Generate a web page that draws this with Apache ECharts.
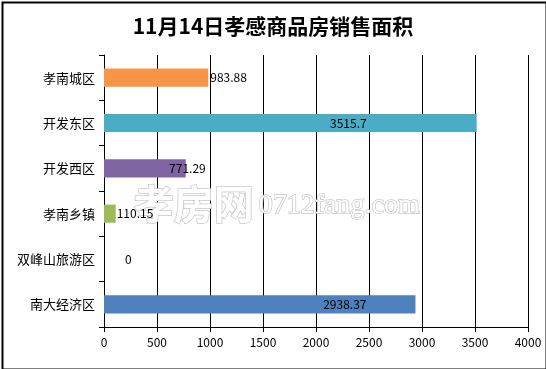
<!DOCTYPE html>
<html><head><meta charset="utf-8">
<script src="https://cdn.jsdelivr.net/npm/echarts@6/dist/echarts.min.js"></script>
<style>html,body{margin:0;padding:0;background:#fff}#c{width:546px;height:369px}</style>
</head><body><div id="c"></div>
<script>
const titleText = '11月14日孝感商品房销售面积';
const categories = ['孝南城区', '开发东区', '开发西区', '孝南乡镇', '双峰山旅游区', '南大经济区'];
const values = [983.88, 3515.7, 771.29, 110.15, 0, 2938.37];
const xTicks = [0, 500, 1000, 1500, 2000, 2500, 3000, 3500, 4000];
const barColors = ['#F79646', '#4BACC6', '#8064A2', '#9BBB59', '#C0504D', '#4F81BD'];
// label placement styles (per bar, matching the reference)
const labelStyles = [
  {position: 'right', distance: 2},
  {position: 'insideRight', offset: [-105, 0]},
  {position: 'insideRight', offset: [25, 0]},
  {position: 'right', distance: 1},
  {position: 'right', distance: 21},
  {position: 'insideRight', offset: [-44, 0]}
];
const font = '"Noto Sans CJK SC", "Noto Sans", sans-serif';
const chart = echarts.init(document.getElementById('c'));
chart.setOption({
  animation: false,
  backgroundColor: '#fff',
  title: {
    text: titleText, left: 'center', top: 11,
    textStyle: {fontFamily: font, fontSize: 21, fontWeight: 'bold', color: '#000'}
  },
  grid: {left: 104, right: 18, top: 55, bottom: 42, containLabel: false},
  xAxis: {
    type: 'value', min: xTicks[0], max: xTicks[xTicks.length - 1], interval: 500,
    axisLine: {show: true, lineStyle: {color: '#000', width: 1}},
    axisTick: {show: true, length: 5, lineStyle: {color: '#000'}},
    axisLabel: {color: '#000', fontFamily: font, fontSize: 12, margin: 9, formatter: v => String(v)},
    splitLine: {show: true, lineStyle: {color: '#000', width: 1}}
  },
  yAxis: {
    type: 'category', data: categories, inverse: true,
    axisLine: {show: true, lineStyle: {color: '#000', width: 1}},
    axisTick: {show: true, length: 5, lineStyle: {color: '#000'}},
    axisLabel: {color: '#000', fontFamily: font, fontSize: 13, margin: 9}
  },
  series: [{
    type: 'bar', barWidth: '40%', z: 3,
    data: values.map((v, i) => ({
      value: v,
      itemStyle: {color: barColors[i]},
      label: Object.assign({show: true, color: '#000', fontFamily: font, fontSize: 12}, labelStyles[i])
    }))
  }],
  graphic: [
    {type: 'text', left: 133, top: 183, z: 2,
     style: {text: '孝房网', font: 'bold 40px ' + font, fill: '#fff', stroke: '#c8c8c8', lineWidth: 1.5}},
    {type: 'text', left: 258, top: 191, z: 2,
     style: {text: '0712fang.com', font: '28px "Liberation Serif", serif', fill: '#fff', stroke: '#c8c8c8', lineWidth: 1.5}},
    {type: 'rect', left: 0, top: 0, z: 10,
     shape: {x: 0.5, y: 0.5, width: 544, height: 367},
     style: {fill: 'none', stroke: '#000', lineWidth: 2}}
  ]
});
</script></body></html>
